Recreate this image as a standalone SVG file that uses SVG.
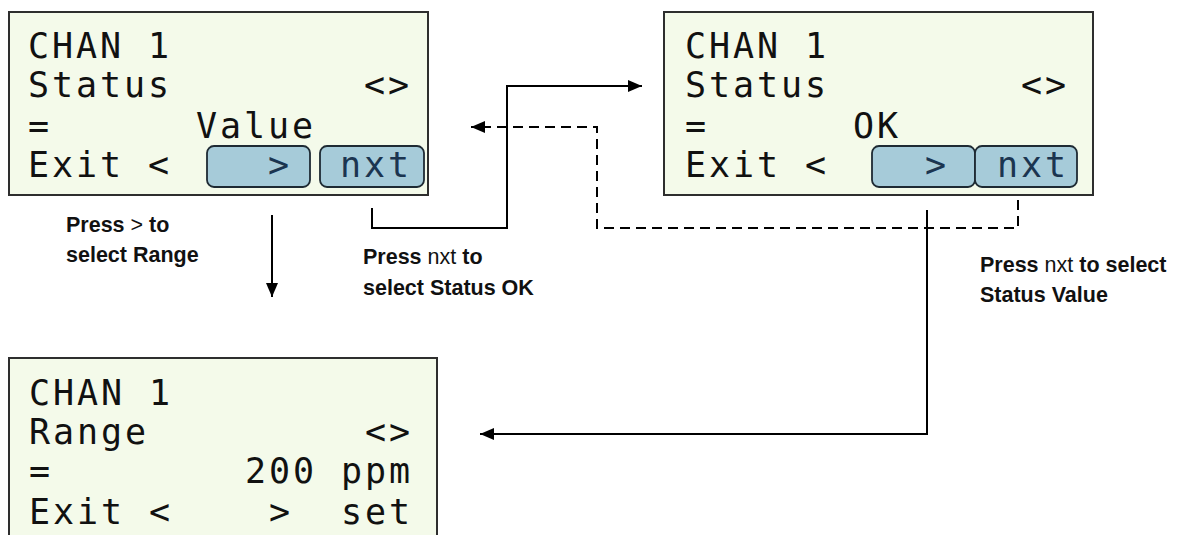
<svg xmlns="http://www.w3.org/2000/svg" width="1197" height="535" viewBox="0 0 1197 535">
<defs>
<style>
.lcd{fill:#f4faea;stroke:#2e2e2e;stroke-width:2}
.btn{fill:#a6cbd9;stroke:#1e2a33;stroke-width:1.8}
.t{font-family:"DejaVu Sans Mono",monospace;font-size:35px;letter-spacing:2.93px;fill:#111}
.bt{fill:#1b3550}
.lbl{font-family:"Liberation Sans",Arial,sans-serif;font-size:21.5px;font-weight:bold;fill:#111}
.n{font-weight:normal}
.c{fill:none;stroke:#000;stroke-width:2}
.d{stroke-dasharray:10 6}
</style>
<marker id="ah" markerUnits="userSpaceOnUse" markerWidth="14" markerHeight="12" refX="14" refY="6" orient="auto">
<path d="M0,0 L14,6 L0,12 z" fill="#000"/>
</marker>
</defs>
<rect width="1197" height="535" fill="#fff"/>
<g id="screen-status-value">
<rect class="lcd" x="9" y="12" width="419" height="183"/>
<rect class="btn" x="207" y="146" width="103" height="41" rx="7"/>
<rect class="btn" x="320" y="146" width="104" height="41" rx="7"/>
<text class="t" x="28" y="58">CHAN 1</text>
<text class="t" x="28" y="97">Status</text>
<text class="t" x="364" y="97">&lt;&gt;</text>
<text class="t" x="28" y="138">=</text>
<text class="t" x="196" y="138">Value</text>
<text class="t" x="28" y="177">Exit &lt;</text>
<text class="t bt" x="268" y="177">&gt;</text>
<text class="t bt" x="340" y="177">nxt</text>
</g>
<g id="screen-status-ok">
<rect class="lcd" x="664" y="12" width="429" height="183"/>
<rect class="btn" x="872" y="146" width="103" height="41" rx="7"/>
<rect class="btn" x="975" y="146" width="102" height="41" rx="7"/>
<text class="t" x="685" y="58">CHAN 1</text>
<text class="t" x="685" y="97">Status</text>
<text class="t" x="1021" y="97">&lt;&gt;</text>
<text class="t" x="685" y="138">=</text>
<text class="t" x="853" y="138">OK</text>
<text class="t" x="685" y="177">Exit &lt;</text>
<text class="t bt" x="925" y="177">&gt;</text>
<text class="t bt" x="997" y="177">nxt</text>
</g>
<g id="screen-range">
<rect class="lcd" x="9" y="358" width="428" height="200"/>
<text class="t" x="29" y="405">CHAN 1</text>
<text class="t" x="29" y="444">Range</text>
<text class="t" x="365" y="444">&lt;&gt;</text>
<text class="t" x="29" y="483">=</text>
<text class="t" x="245" y="483">200 ppm</text>
<text class="t" x="29" y="524">Exit &lt;</text>
<text class="t" x="269" y="524">&gt;</text>
<text class="t" x="341" y="524">set</text>
</g>
<g id="connectors">
<path class="c" d="M372 208 V228 H507 V86 H642" marker-end="url(#ah)"/>
<path class="c d" d="M1018 200 V228 H597 V127 H471" marker-end="url(#ah)"/>
<path class="c" d="M927 210 V434 H480" marker-end="url(#ah)"/>
<path class="c" d="M272 215 V297" marker-end="url(#ah)"/>
</g>
<g id="labels">
<text class="lbl" x="66" y="232">Press <tspan class="n">&gt;</tspan> to</text>
<text class="lbl" x="66" y="262">select Range</text>
<text class="lbl" x="363" y="264">Press <tspan class="n">nxt</tspan> to</text>
<text class="lbl" x="363" y="295">select Status OK</text>
<text class="lbl" x="980" y="272">Press <tspan class="n">nxt</tspan> to select</text>
<text class="lbl" x="980" y="302">Status Value</text>
</g>
</svg>
